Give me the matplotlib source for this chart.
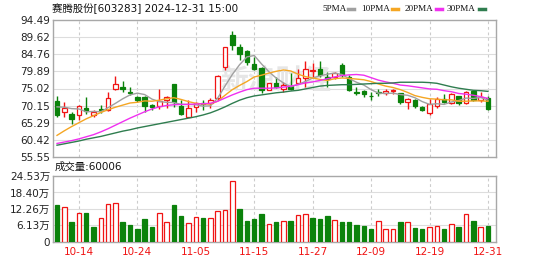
import matplotlib
matplotlib.use("Agg")
import matplotlib.pyplot as plt
from matplotlib.lines import Line2D
import numpy as np

plt.rcParams["font.family"] = ["DejaVu Sans", "Noto Sans CJK SC"]

# daily K-line, 2024-10-09 .. 2024-12-31 (60 trading days)
opens = [71.4, 68.2, 67.9, 67.6, 69.6, 67.6, 69.3, 68.8, 74.8, 75.5,
         74.1, 72.5, 72.5, 70.2, 70.0, 71.7, 76.2, 70.0, 67.0, 69.8,
         71.0, 70.8, 72.2, 81.2, 90.2, 86.9, 85.7, 81.9, 80.9, 74.7,
         76.5, 75.0, 75.7, 76.5, 77.9, 80.1, 80.7, 78.2, 78.2, 81.7,
         78.2, 74.1, 74.3, 72.9, 74.1, 73.6, 74.3, 73.6, 71.2, 71.7,
         69.8, 68.1, 70.0, 71.9, 70.8, 72.8, 70.8, 74.4, 71.7, 72.2]
highs = [72.8, 71.2, 68.4, 70.3, 72.6, 69.0, 70.3, 74.1, 78.5, 77.2,
         75.5, 72.8, 72.8, 70.7, 75.0, 72.8, 76.3, 71.7, 71.7, 71.2,
         71.7, 72.2, 78.8, 86.9, 91.4, 87.7, 86.1, 84.0, 81.2, 76.6,
         78.3, 76.9, 79.3, 80.7, 82.9, 82.3, 82.9, 79.8, 79.8, 82.2,
         78.8, 75.5, 74.5, 74.1, 75.0, 75.0, 75.0, 73.8, 72.2, 72.1,
         70.0, 71.9, 72.7, 73.4, 73.6, 73.0, 74.4, 74.5, 74.1, 72.8]
lows = [67.0, 66.8, 64.9, 66.2, 67.9, 67.0, 68.1, 68.7, 74.5, 74.1,
        73.1, 71.2, 68.4, 69.0, 69.3, 69.6, 69.8, 67.4, 67.0, 68.4,
        68.9, 69.6, 71.7, 80.4, 86.1, 83.1, 81.7, 80.2, 73.8, 74.5,
        75.3, 74.1, 74.5, 76.3, 75.5, 77.9, 78.3, 75.5, 77.6, 78.3,
        74.4, 73.1, 72.5, 71.7, 72.8, 73.1, 73.4, 70.6, 69.3, 69.6,
        68.7, 67.4, 69.6, 71.0, 70.6, 70.3, 70.6, 71.4, 71.2, 69.0]
closes = [67.6, 69.5, 66.3, 70.0, 68.6, 68.3, 68.9, 72.2, 76.2, 75.0,
          73.6, 71.7, 70.0, 69.8, 71.5, 72.5, 71.2, 67.7, 69.6, 70.8,
          70.7, 71.7, 78.5, 86.7, 87.4, 84.7, 82.6, 80.7, 74.5, 76.5,
          75.5, 76.0, 75.0, 77.9, 80.7, 80.4, 78.8, 77.6, 79.3, 78.8,
          74.7, 73.8, 73.4, 72.8, 73.6, 74.4, 74.5, 71.2, 71.9, 70.0,
          68.9, 70.6, 71.9, 71.2, 73.4, 70.8, 74.1, 71.7, 72.5, 69.3]

# volume in 万 shares
volume = [13.7, 12.9, 7.4, 10.9, 10.9, 5.5, 8.7, 14.0, 14.4, 7.4,
          6.2, 4.9, 8.4, 5.5, 10.9, 7.4, 13.7, 9.5, 7.0, 9.1,
          8.7, 8.7, 11.6, 11.9, 22.6, 12.2, 7.7, 8.4, 10.2, 6.6,
          7.4, 7.7, 7.7, 9.9, 10.2, 8.7, 8.4, 9.5, 8.0, 7.4,
          7.4, 6.2, 5.9, 4.9, 7.7, 4.9, 4.9, 7.4, 7.4, 5.2,
          4.9, 5.5, 5.9, 4.9, 6.6, 5.5, 10.2, 7.7, 5.5, 6.0]

# moving averages as drawn on the chart
ma5 = [69.8, 69.7, 69.3, 69.2, 68.4, 68.5, 68.4, 69.6, 70.8, 72.1,
       73.2, 73.7, 73.3, 72.0, 71.3, 71.1, 71.0, 70.5, 70.5, 70.4,
       70.0, 70.1, 72.3, 75.7, 79.0, 81.8, 84.0, 84.4, 82.0, 79.8,
       78.0, 76.6, 75.5, 76.2, 77.0, 78.0, 78.6, 79.1, 79.4, 79.0,
       77.8, 76.8, 76.0, 74.7, 73.7, 73.6, 73.7, 73.3, 73.1, 72.4,
       71.3, 70.5, 70.7, 70.5, 71.2, 71.6, 72.3, 72.2, 72.5, 71.7]
ma10 = [61.7, 63.0, 64.2, 65.3, 66.4, 67.3, 68.2, 69.0, 69.7, 70.3,
        70.9, 71.1, 71.5, 71.4, 71.7, 72.1, 72.4, 71.9, 71.3, 70.8,
        70.6, 70.6, 71.4, 73.1, 74.7, 75.9, 77.0, 78.3, 78.8, 79.4,
        79.9, 80.3, 80.0, 79.1, 78.4, 78.0, 77.6, 77.3, 77.8, 78.0,
        77.9, 77.7, 77.5, 77.0, 76.3, 75.7, 75.3, 74.7, 73.9, 73.0,
        72.5, 72.1, 72.0, 71.8, 71.8, 71.4, 71.4, 71.5, 71.5, 71.4]
ma20 = [59.4, 59.8, 60.2, 60.7, 61.3, 61.9, 62.7, 63.6, 64.6, 65.6,
        66.6, 67.5, 68.4, 69.2, 69.8, 70.2, 70.4, 70.5, 70.5, 70.6,
        70.7, 70.8, 71.4, 72.3, 73.2, 74.0, 74.7, 75.1, 75.1, 75.1,
        75.2, 75.4, 75.7, 76.1, 76.6, 76.9, 77.3, 77.8, 78.3, 78.7,
        78.9, 79.0, 78.8, 78.1, 77.4, 76.9, 76.5, 76.0, 75.8, 75.5,
        75.2, 74.9, 74.8, 74.4, 74.1, 73.6, 73.4, 73.1, 72.7, 72.2]
ma30 = [58.9, 59.3, 59.7, 60.1, 60.6, 61.0, 61.4, 61.9, 62.4, 62.9,
        63.3, 63.8, 64.2, 64.6, 65.0, 65.4, 65.8, 66.2, 66.6, 67.0,
        67.5, 68.1, 68.9, 69.8, 70.8, 71.7, 72.4, 72.9, 73.2, 73.5,
        73.8, 74.0, 74.3, 74.5, 74.9, 75.3, 75.7, 75.9, 76.0, 76.1,
        76.1, 76.2, 76.3, 76.4, 76.5, 76.5, 76.6, 76.8, 76.8, 76.8,
        76.8, 76.7, 76.5, 76.0, 75.5, 75.1, 74.8, 74.5, 74.4, 74.2]

price_ticks = [55.55, 60.42, 65.29, 70.15, 75.02, 79.89, 84.76, 89.62, 94.49]
vol_ticks = [0, 6.13, 12.26, 18.40, 24.53]
tick_idx = [3, 11, 19, 27, 35, 43, 51, 59]
tick_labels = ["10-14", "10-24", "11-05", "11-15", "11-27", "12-09", "12-19", "12-31"]

RED = "#f01414"
GREEN = "#0b820b"
MA_COLORS = ["#a0a0a0", "#f5a623", "#f030f0", "#2f7d4f"]
MA_NAMES = ["5PMA", "10PMA", "20PMA", "30PMA"]


def style_axes(ax):
    for sp in ax.spines.values():
        sp.set_color("#a8a8a8")
        sp.set_linewidth(1.0)
    ax.tick_params(length=0, labelsize=7.5, pad=2, colors="#222222")
    ax.set_xlim(-0.55, 60.1)
    for i in tick_idx:
        ax.axvline(i, color="#cccccc", lw=0.8, ls=(0, (2.5, 2.5)), zorder=0)


def draw_candles(ax):
    x = np.arange(len(closes))
    for i in x:
        o, h, l, c = opens[i], highs[i], lows[i], closes[i]
        up = c >= o
        col = RED if up else GREEN
        ax.vlines(i, l, h, color=col, lw=1.0, zorder=2)
        body = max(abs(c - o), 0.15)
        ax.bar(i, body, bottom=min(o, c), width=0.62,
               facecolor="white" if up else col, edgecolor=col,
               linewidth=0.9, zorder=3)


fig = plt.figure(figsize=(5.49, 2.62), dpi=100)
ax_p = fig.add_axes([53 / 549, 1 - 157 / 262, 443 / 549, 137 / 262])
ax_v = fig.add_axes([53 / 549, 1 - 241.7 / 262, 443 / 549, 65.7 / 262])

# price panel
style_axes(ax_p)
ax_p.set_ylim(price_ticks[0], price_ticks[-1])
ax_p.set_yticks(price_ticks)
ax_p.set_yticklabels([f"{t:.2f}" for t in price_ticks])
ax_p.set_xticks([])
for t in price_ticks[1:-1]:
    ax_p.axhline(t, color="#dddddd", lw=0.8, zorder=0)
ax_p.text(30, 77.5, "新浪财经", fontsize=20, color="#e6e6e6", ha="center",
          va="center", zorder=1, family=["Noto Sans CJK SC"], fontweight="bold")

draw_candles(ax_p)
xs = np.arange(len(closes))
for ma, col in zip([ma5, ma10, ma20, ma30], MA_COLORS):
    ax_p.plot(xs, ma, color=col, lw=1.0, zorder=4)

# volume panel
style_axes(ax_v)
ax_v.set_ylim(0, vol_ticks[-1])
ax_v.set_yticks(vol_ticks)
ax_v.set_yticklabels(["0"] + [f"{t:.2f}万" for t in vol_ticks[1:]])
for t in vol_ticks[1:-1]:
    ax_v.axhline(t, color="#dddddd", lw=0.8, zorder=0)
vol_up = np.r_[False, np.diff(closes) > 0]
ax_v.bar(xs, volume, width=0.62,
         facecolor=["white" if u else GREEN for u in vol_up],
         edgecolor=[RED if u else GREEN for u in vol_up],
         linewidth=0.9, zorder=3)
ax_v.set_xticks(tick_idx)
ax_v.set_xticklabels(tick_labels, color=RED)
ax_v.tick_params(axis="x", pad=4)

# header texts
fig.text(52 / 549, 1 - 9 / 262, "赛腾股份[603283] 2024-12-31 15:00",
         fontsize=7.5, va="center", color="#111111")
fig.text(55 / 549, 1 - 167 / 262, "成交量:60006", fontsize=7.5,
         va="center", color="#111111")

# legend: label start and dash start (pixels)
legend_x = [322, 361, 405, 447]
dash_x = [348, 392, 436, 479]
for lx, dx, name, col in zip(legend_x, dash_x, MA_NAMES, MA_COLORS):
    fig.text(lx / 549, 1 - 9 / 262, name, fontsize=6.6, va="center",
             color="#111111", family=["Liberation Serif"])
    fig.add_artist(Line2D([dx / 549, (dx + 6) / 549],
                          [1 - 9 / 262, 1 - 9 / 262],
                          transform=fig.transFigure, color=col, lw=2.5))

fig.savefig("out.png", dpi=100)
